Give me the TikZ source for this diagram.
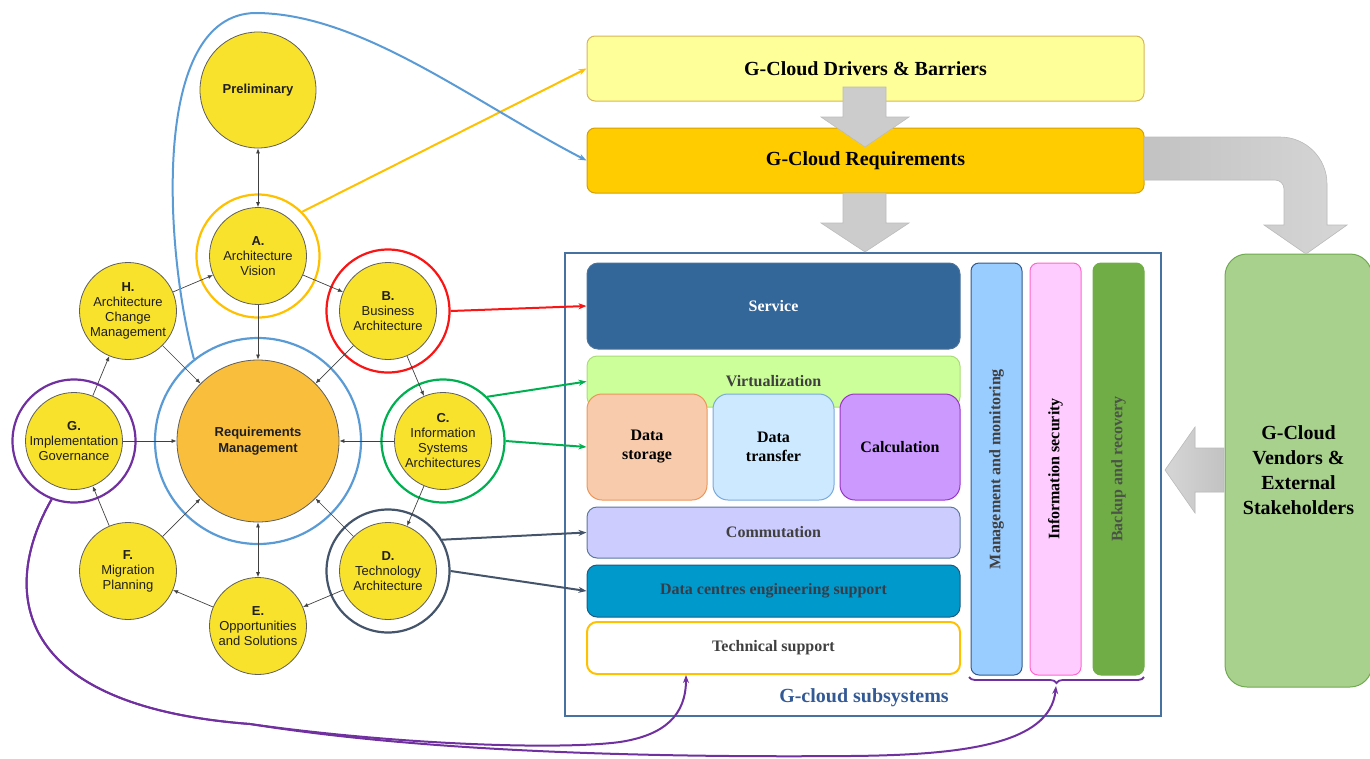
\documentclass[tikz,border=0pt]{standalone}
\usepackage{fontspec}
\setmainfont{Liberation Serif}
\newfontfamily\arialf{Liberation Sans}
\usetikzlibrary{arrows.meta,decorations.pathreplacing,calc}
\definecolor{phaseyellow}{RGB}{249,226,43}
\definecolor{reqorange}{RGB}{249,190,60}
\definecolor{circedge}{RGB}{95,95,95}
\definecolor{ringblue}{RGB}{91,155,213}
\definecolor{ringorange}{RGB}{255,192,0}
\definecolor{ringred}{RGB}{250,20,20}
\definecolor{ringgreen}{RGB}{0,176,80}
\definecolor{ringslate}{RGB}{68,84,106}
\definecolor{ringpurple}{RGB}{112,48,160}
\definecolor{blockgray}{RGB}{204,204,204}
\definecolor{blockdark}{RGB}{194,194,194}
\definecolor{blocklight}{RGB}{214,214,214}
\definecolor{blockedge}{RGB}{188,188,188}
\definecolor{txtgray}{RGB}{64,64,64}
\definecolor{subblue}{RGB}{52,90,150}
\definecolor{frameblue}{RGB}{71,114,160}
\begin{document}
\begin{tikzpicture}[x=1pt,y=-1pt,
  phase/.style={circle, draw=circedge, line width=0.8pt, fill=phaseyellow, minimum size=97pt, inner sep=0pt, align=center, font=\arialf\fontsize{13}{15}\selectfont, text=black!88},
  ring/.style={circle, line width=2.2pt, minimum size=123pt, inner sep=0pt},
  flow/.style={-{Latex[length=5pt,width=4pt]}, draw=black!75, line width=0.7pt},
  biflow/.style={{Latex[length=5pt,width=4pt]}-{Latex[length=5pt,width=4pt]}, draw=black!75, line width=0.7pt},
  link/.style={line width=2pt, -{Stealth[length=8pt,width=6pt]}},
  bar/.style={rectangle, rounded corners=8pt, line width=1pt, inner sep=0pt, align=center},
  bigtxt/.style={font=\bfseries\fontsize{20}{25}\selectfont},
  midtxt/.style={font=\bfseries\fontsize{16}{19}\selectfont},
  col/.style={bar, rotate=90, minimum width=412pt, minimum height=51pt, midtxt},
  blockarrow/.style={fill=blockgray, draw=blockedge, line width=0.6pt}
]
\useasboundingbox (0,0) rectangle (1370,758);

% ---------------- Left: phase circle ----------------
\node[ring, draw=ringblue, minimum size=206pt] (Reqring) at (258,441) {};
\node[ring, draw=ringorange] (Aring) at (258,256) {};
\node[ring, draw=ringred] (Bring) at (388,311) {};
\node[ring, draw=ringgreen] (Cring) at (443,441) {};
\node[ring, draw=ringslate] (Dring) at (388,571) {};
\node[ring, draw=ringpurple] (Gring) at (74,441) {};

\node[phase, minimum size=116pt] (Prelim) at (258,90) {\textbf{Preliminary}};
\node[phase] (A) at (258,256) {\textbf{A.}\\Architecture\\Vision};
\node[phase] (B) at (388,311) {\textbf{B.}\\Business\\Architecture};
\node[phase] (C) at (443,441) {\textbf{C.}\\Information\\Systems\\Architectures};
\node[phase] (D) at (388,571) {\textbf{D.}\\Technology\\Architecture};
\node[phase] (E) at (258,626) {\textbf{E.}\\Opportunities\\and Solutions};
\node[phase] (F) at (128,571) {\textbf{F.}\\Migration\\Planning};
\node[phase] (G) at (74,441) {\textbf{G.}\\Implementation\\Governance};
\node[phase] (H) at (128,311) {\textbf{H.}\\Architecture\\Change\\Management};
\node[phase, fill=reqorange, minimum size=162pt, font=\arialf\bfseries\fontsize{13}{15.5}\selectfont] (Req) at (258,441) {Requirements\\Management};

\draw[biflow] (Prelim) -- (A);
\draw[flow] (H) -- (A);
\draw[flow] (A) -- (B);
\draw[flow] (A) -- (Req);
\draw[flow] (B) -- (Req);
\draw[flow] (B) -- (C);
\draw[flow] (H) -- (Req);
\draw[flow] (G) -- (H);
\draw[flow] (G) -- (Req);
\draw[flow] (C) -- (Req);
\draw[flow] (C) -- (D);
\draw[flow] (D) -- (Req);
\draw[flow] (D) -- (E);
\draw[biflow] (E) -- (Req);
\draw[flow] (E) -- (F);
\draw[flow] (F) -- (G);
\draw[flow] (F) -- (Req);

% ---------------- Right: boxes ----------------
\node[bar, fill={rgb,255:red,255;green,255;blue,153}, draw={rgb,255:red,214;green,182;blue,86}, minimum width=557pt, minimum height=65pt, bigtxt] (Drivers) at (865.5,68.5) {G-Cloud Drivers \& Barriers};
\node[bar, fill={rgb,255:red,255;green,204;blue,0}, draw={rgb,255:red,214;green,160;blue,0}, minimum width=557pt, minimum height=65pt, bigtxt] (ReqBox) at (865.5,160.5) {G-Cloud Requirements};

\node[rectangle, draw=frameblue, line width=2pt, minimum width=596pt, minimum height=463pt, inner sep=0pt] (Subsys) at (863,484.5) {};

\node[bar, rounded corners=11pt, fill={rgb,255:red,51;green,102;blue,153}, draw={rgb,255:red,75;green,115;blue,155}, minimum width=373pt, minimum height=86pt, midtxt, text=white] (Service) at (773.5,306) {Service};
\node[bar, rounded corners=10pt, fill={rgb,255:red,204;green,255;blue,153}, draw={rgb,255:red,170;green,220;blue,120}, minimum width=373pt, minimum height=51pt, midtxt, text=txtgray] (Virt) at (773.5,381.5) {Virtualization};
\node[bar, rounded corners=15pt, fill={rgb,255:red,248;green,203;blue,173}, draw={rgb,255:red,237;green,150;blue,90}, minimum width=120pt, minimum height=106pt, midtxt] (Storage) at (647,447) {Data\\storage};
\node[bar, rounded corners=15pt, fill={rgb,255:red,204;green,233;blue,255}, draw={rgb,255:red,120;green,170;blue,220}, minimum width=121pt, minimum height=106pt, midtxt] (Transfer) at (773.5,447) {Data\\transfer};
\node[bar, rounded corners=15pt, fill={rgb,255:red,204;green,153;blue,255}, draw={rgb,255:red,153;green,51;blue,204}, minimum width=120pt, minimum height=106pt, midtxt] (Calc) at (900,447) {Calculation};
\node[bar, rounded corners=10pt, fill={rgb,255:red,204;green,204;blue,255}, draw={rgb,255:red,90;green,120;blue,160}, minimum width=373pt, minimum height=51pt, midtxt, text=txtgray] (Commut) at (773.5,532.5) {Commutation};
\node[bar, rounded corners=10pt, fill={rgb,255:red,0;green,153;blue,204}, draw={rgb,255:red,30;green,90;blue,130}, minimum width=373pt, minimum height=52pt, midtxt, text={rgb,255:red,55;green,60;blue,70}] (DCentres) at (773.5,591) {Data centres engineering support};
\node[bar, rounded corners=10pt, fill=white, draw=ringorange, line width=2pt, minimum width=373pt, minimum height=52pt, midtxt, text=txtgray] (Tech) at (773.5,648) {Technical support};

\node[col, fill={rgb,255:red,153;green,204;blue,255}, draw={rgb,255:red,50;green,90;blue,140}, text=txtgray] (Mgmt) at (996.5,469) {Management and monitoring};
\node[col, fill={rgb,255:red,255;green,204;blue,255}, draw={rgb,255:red,255;green,102;blue,204}] (InfoSec) at (1055.5,469) {Information security};
\node[col, fill={rgb,255:red,112;green,173;blue,71}, draw={rgb,255:red,112;green,173;blue,71}, text={rgb,255:red,75;green,85;blue,70}] (Backup) at (1118.5,469) {Backup and recovery};

\node[bigtxt, text=subblue, inner sep=0pt] (SubLabel) at (864,698) {G-cloud subsystems};

\node[bar, rounded corners=22pt, fill={rgb,255:red,169;green,209;blue,142}, draw={rgb,255:red,112;green,170;blue,80}, minimum width=147pt, minimum height=433pt, bigtxt] (Vendors) at (1298.5,470.5) {G-Cloud\\Vendors \&\\External\\Stakeholders};

% ---------------- Block arrows ----------------
\draw[blockarrow] (843,87) -- (886,87) -- (886,117) -- (909,117) -- (865,147) -- (821,117) -- (843,117) -- cycle;
\draw[blockarrow] (843,193) -- (886,193) -- (886,223) -- (909,223) -- (865,252) -- (821,223) -- (843,223) -- cycle;
\draw[blockarrow, left color=blocklight, right color=blockdark] (1224,448) -- (1195,448) -- (1195,427) -- (1165,470) -- (1195,513) -- (1195,492) -- (1224,492) -- cycle;
\draw[blockarrow, left color=blockdark, right color=blocklight] (1144,137) -- (1280,137) .. controls (1306,137) and (1327,158) .. (1327,184) -- (1327,225) -- (1347,225) -- (1306,254) -- (1264,225) -- (1284,225) -- (1284,189) .. controls (1284,184) and (1280,180) .. (1275,180) -- (1144,180) -- cycle;

% ---------------- Coloured links ----------------
\draw[link, draw=ringorange] (Aring.45) -- (Drivers.west);
\draw[link, draw=ringblue] (Reqring.128) .. controls (165,250) and (150,15) .. (255,13) .. controls (360,13) and (470,100) .. (ReqBox.west);
\draw[link, draw=ringred] (Bring.east) -- (Service.west);
\draw[link, draw=ringgreen] (Cring.45) -- (Virt.west);
\draw[link, draw=ringgreen] (Cring.east) -- (Storage.west);
\draw[link, draw=ringslate] (Dring.30) -- (Commut.west);
\draw[link, draw=ringslate] (Dring.east) -- (DCentres.west);

\coordinate (techin) at (686,675);
\coordinate (bracetip) at (1056,686);
\draw[ringpurple, line width=1.8pt, decorate, decoration={brace, amplitude=6pt}] (1144,677) -- (969,677);
\draw[link, draw=ringpurple] (Gring.-111) .. controls (5,580) and (0,705) .. (250,724) .. controls (400,745) and (560,750) .. (620,742) .. controls (665,735) and (686,715) .. (techin);
\draw[link, draw=ringpurple] (Gring.-111) .. controls (5,580) and (0,705) .. (250,724) .. controls (400,748) and (600,758) .. (850,756) .. controls (960,755) and (1050,745) .. (bracetip);
\end{tikzpicture}
\end{document}
